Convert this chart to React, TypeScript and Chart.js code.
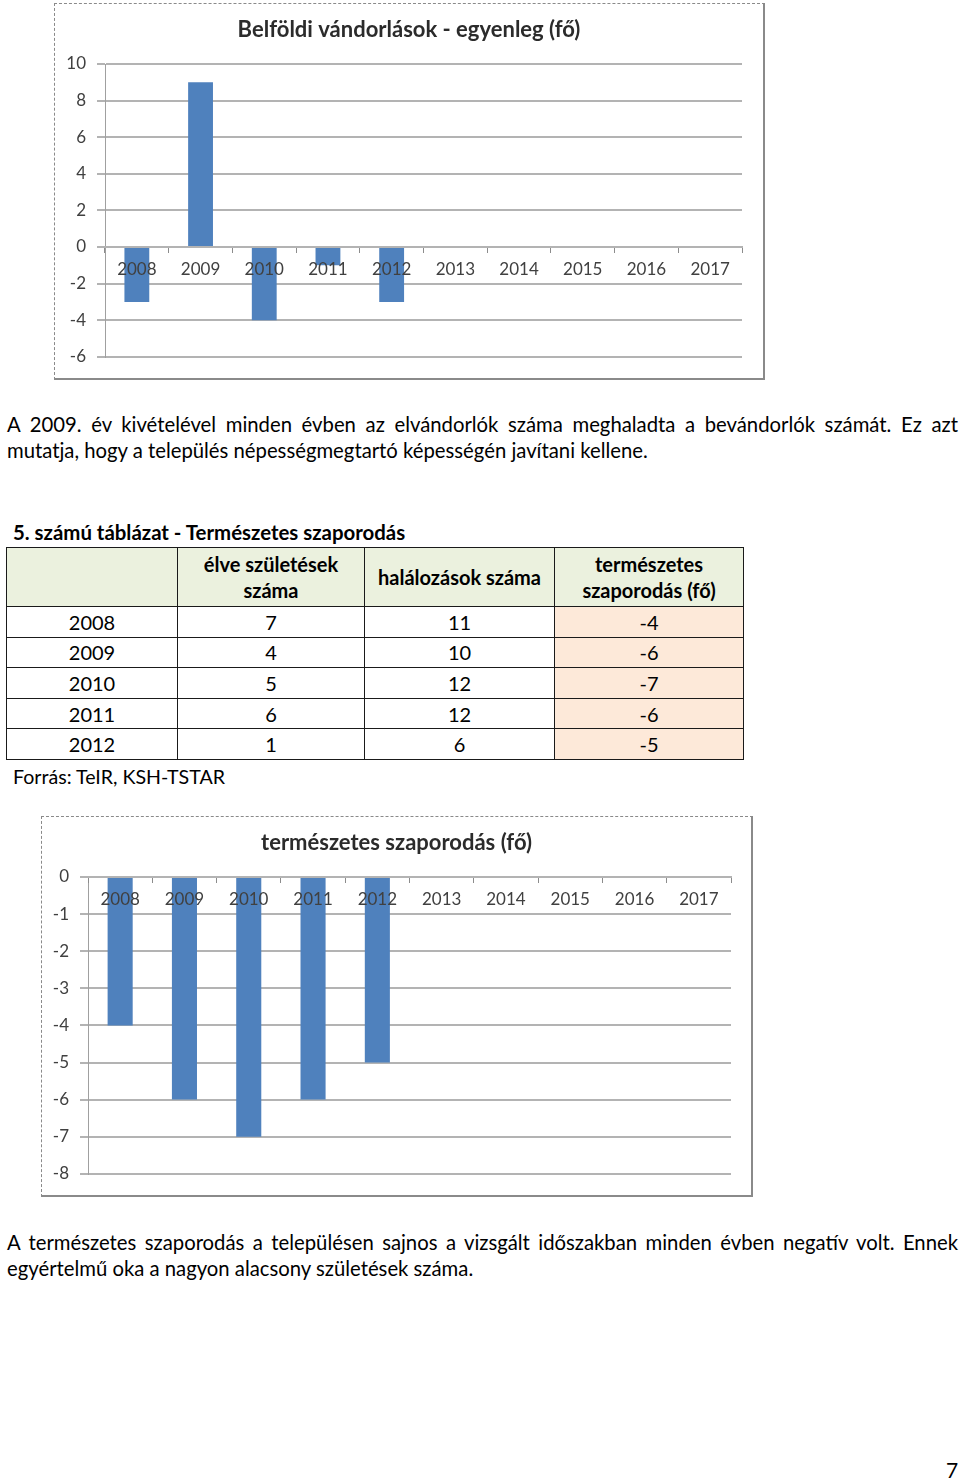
import React, { useEffect, useRef } from "react";
import { Chart, registerables } from "chart.js";

Chart.register(...registerables);

// ---------- data ----------
const chartYears = ["2008", "2009", "2010", "2011", "2012", "2013", "2014", "2015", "2016", "2017"];
const migrationBalance = [-3, 9, -4, -1, -3];
const tableYears = ["2008", "2009", "2010", "2011", "2012"];
const liveBirths = [7, 4, 5, 6, 1];
const deaths = [11, 10, 12, 12, 6];
const naturalIncrease = [-4, -6, -7, -6, -5];

const migrationTitle = "Belföldi vándorlások - egyenleg (fő)";
const naturalTitle = "természetes szaporodás (fő)";

const FONT = "Lato, 'Open Sans', sans-serif";
const BAR = "#4F81BD";
const GRID = "#b3b3b3";
const TEXT = "#404040";

type ChartBoxProps = {
  left: number;
  top: number;
  width: number;
  height: number;
  title: string;
  values: (number | null)[];
  min: number;
  max: number;
  step: number;
  yWidth: number;
  rightWidth: number;
  padBottom: number;
};

function ChartBox(p: ChartBoxProps) {
  const ref = useRef<HTMLCanvasElement | null>(null);
  useEffect(() => {
    if (!ref.current) return;
    const chart = new Chart(ref.current, {
      type: "bar",
      data: {
        labels: chartYears,
        datasets: [
          {
            data: chartYears.map((_, i) => (p.values[i] === undefined ? null : p.values[i])),
            backgroundColor: BAR,
            borderWidth: 0,
            barPercentage: 0.39,
            categoryPercentage: 1,
            yAxisID: "y",
          },
        ],
      },
      options: {
        responsive: false,
        animation: false,
        devicePixelRatio: 1,
        layout: { padding: { left: 0, right: 0, top: 0, bottom: p.padBottom } },
        plugins: {
          legend: { display: false },
          tooltip: { enabled: false },
          title: {
            display: true,
            text: p.title,
            color: "#2b2b2b",
            font: { family: FONT, size: 22, weight: "bold", lineHeight: 1.2 },
            padding: { top: 12.8, bottom: 20.8 },
          },
        },
        scales: {
          x: {
            type: "category",
            position: { y: 0 } as any,
            grid: {
              display: true,
              drawOnChartArea: false,
              drawTicks: true,
              tickLength: 5,
              color: "#8c8c8c",
              offset: true,
              z: 1,
            },
            border: { display: true, color: GRID, width: 2, z: 1 },
            ticks: {
              color: TEXT,
              font: { family: FONT, size: 17, lineHeight: 1.2 },
              padding: 7,
              maxRotation: 0,
              autoSkip: false,
              z: 2,
            },
          },
          y: {
            min: p.min,
            max: p.max,
            grid: { color: GRID, lineWidth: 2, tickLength: 8, drawTicks: true },
            border: { display: true, color: "#a0a0a0", width: 1 },
            ticks: {
              stepSize: p.step,
              color: TEXT,
              font: { family: FONT, size: 17 },
              padding: 11,
            },
            afterFit: (s: any) => {
              s.width = p.yWidth;
            },
          },
          yRight: {
            position: "right",
            display: true,
            min: p.min,
            max: p.max,
            grid: { display: false, drawTicks: false },
            border: { display: false },
            ticks: { display: false },
            afterFit: (s: any) => {
              s.width = p.rightWidth;
            },
          },
        },
      },
    });
    return () => chart.destroy();
  }, []);
  return (
    <div
      style={{
        position: "absolute",
        left: p.left,
        top: p.top,
        borderLeft: "1px dashed #8a8a8a",
        borderTop: "1px dashed #8a8a8a",
        borderRight: "2px solid #8a8a8a",
        borderBottom: "2px solid #8a8a8a",
        background: "#fff",
      }}
    >
      <canvas ref={ref} width={p.width} height={p.height} style={{ display: "block" }} />
    </div>
  );
}

const bodyText: React.CSSProperties = {
  position: "absolute",
  left: 7,
  width: 951,
  fontFamily: FONT,
  fontSize: 20.3,
  lineHeight: "26px",
  color: "#000",
  margin: 0,
};

function Line(props: { top: number; text: string; justify?: boolean }) {
  return (
    <div
      style={{
        ...bodyText,
        top: props.top,
        textAlign: props.justify ? "justify" : "left",
        textAlignLast: props.justify ? ("justify" as any) : ("left" as any),
      }}
    >
      {props.text}
    </div>
  );
}

const colWidths = [171, 187, 190, 189];
const cellBorder = "1px solid #1a1a1a";

export default function App() {
  const cell = (extra: React.CSSProperties = {}): React.CSSProperties => ({
    border: cellBorder,
    textAlign: "center",
    padding: 0,
    fontFamily: FONT,
    fontSize: 20,
    lineHeight: "26px",
    color: "#000",
    ...extra,
  });
  const headBg = "#EBF1DE";
  const peach = "#FDE9D9";
  return (
    <div style={{ position: "absolute", left: 0, top: 0, width: 960, height: 1479, background: "#fff" }}>
      <ChartBox
        left={54}
        top={3}
        width={708}
        height={374}
        title={migrationTitle}
        values={migrationBalance}
        min={-6}
        max={10}
        step={2}
        yWidth={50}
        rightWidth={21}
        padBottom={19}
      />

      <Line top={411} justify text="A 2009. év kivételével minden évben az elvándorlók száma meghaladta a bevándorlók számát. Ez azt" />
      <Line top={437} text="mutatja, hogy a település népességmegtartó képességén javítani kellene." />

      <div
        style={{
          position: "absolute",
          left: 13,
          top: 519,
          fontFamily: FONT,
          fontWeight: "bold",
          fontSize: 20.4,
          lineHeight: "26px",
        }}
      >
        5. számú táblázat - Természetes szaporodás
      </div>

      <table
        style={{
          position: "absolute",
          left: 6,
          top: 547,
          borderCollapse: "collapse",
          tableLayout: "fixed",
          width: 737,
        }}
      >
        <colgroup>
          {colWidths.map((w, i) => (
            <col key={i} style={{ width: w }} />
          ))}
        </colgroup>
        <tbody>
          <tr style={{ height: 59 }}>
            <td style={cell({ background: headBg })}></td>
            <td style={cell({ background: headBg, fontWeight: "bold" })}>
              élve születések
              <br />
              száma
            </td>
            <td style={cell({ background: headBg, fontWeight: "bold" })}>halálozások száma</td>
            <td style={cell({ background: headBg, fontWeight: "bold" })}>
              természetes
              <br />
              szaporodás (fő)
            </td>
          </tr>
          {tableYears.map((y, i) => (
            <tr key={y} style={{ height: 30.6 }}>
              <td style={cell()}>{y}</td>
              <td style={cell()}>{liveBirths[i]}</td>
              <td style={cell()}>{deaths[i]}</td>
              <td style={cell({ background: peach })}>{naturalIncrease[i]}</td>
            </tr>
          ))}
        </tbody>
      </table>

      <div
        style={{
          position: "absolute",
          left: 13,
          top: 764,
          fontFamily: FONT,
          fontSize: 19.6,
          lineHeight: "26px",
        }}
      >
        Forrás: TeIR, KSH-TSTAR
      </div>

      <ChartBox
        left={41}
        top={816}
        width={709}
        height={378}
        title={naturalTitle}
        values={naturalIncrease}
        min={-8}
        max={0}
        step={1}
        yWidth={46}
        rightWidth={20}
        padBottom={18}
      />

      <Line top={1229} justify text="A természetes szaporodás a településen sajnos a vizsgált időszakban minden évben negatív volt. Ennek" />
      <Line top={1255} text="egyértelmű oka a nagyon alacsony születések száma." />

      <div
        style={{
          position: "absolute",
          left: 946,
          top: 1457,
          fontFamily: FONT,
          fontSize: 21,
          lineHeight: "26px",
        }}
      >
        7
      </div>
    </div>
  );
}
